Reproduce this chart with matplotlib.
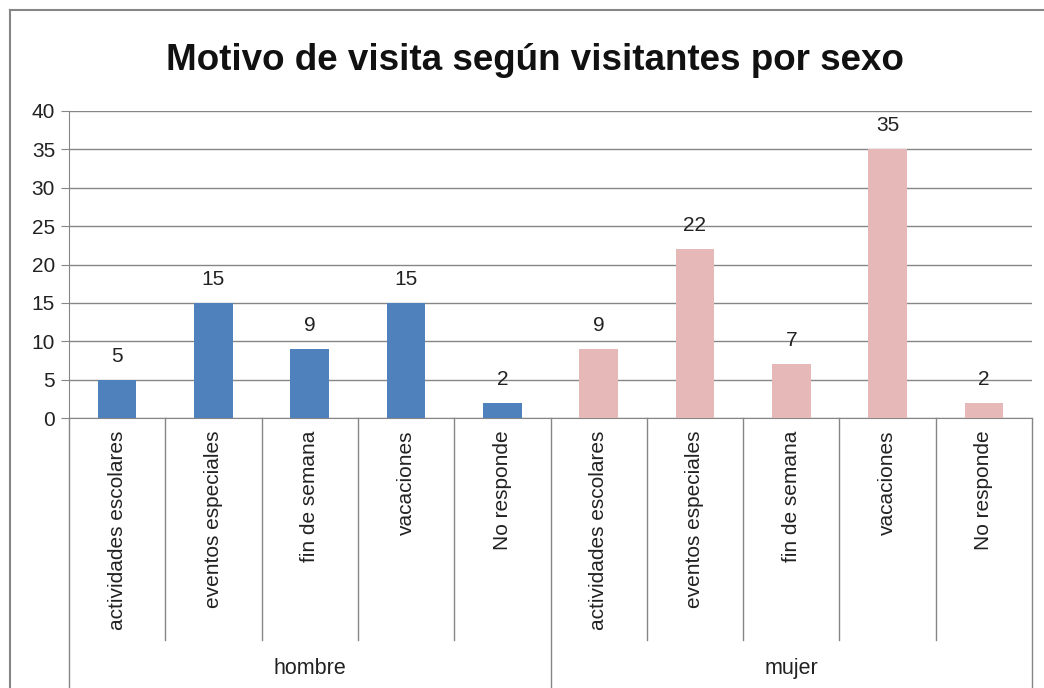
import matplotlib
matplotlib.use("Agg")
from matplotlib import pyplot as plt
from matplotlib.lines import Line2D
import numpy as np

# datos
grupos = ["hombre", "mujer"]
motivos = ["actividades escolares", "eventos especiales", "fin de semana",
           "vacaciones", "No responde"]
hombre = [5, 15, 9, 15, 2]
mujer = [9, 22, 7, 35, 2]
colores = ["#4F81BD", "#E6B9B8"]
titulo = "Motivo de visita según visitantes por sexo"

plt.rcParams['font.family'] = ['Liberation Sans', 'DejaVu Sans']
gris = "#868686"

fig = plt.figure(figsize=(10.44, 6.88), dpi=100)
ax = fig.add_axes([69 / 1044, 1 - 418 / 688, 963 / 1044, 307 / 688])

valores = hombre + mujer
x = np.arange(len(valores))
cols = [colores[0]] * len(hombre) + [colores[1]] * len(mujer)
barras = ax.bar(x, valores, width=0.4, color=cols, zorder=3)
for b, v in zip(barras, valores):
    ax.annotate(str(v), (b.get_x() + b.get_width() / 2, v),
                xytext=(0, 10), textcoords="offset points",
                ha="center", va="bottom", fontsize=15, color="#222222")

ax.set_xlim(-0.5, len(valores) - 0.5)
ax.set_ylim(0, 40)
ax.set_yticks(range(0, 41, 5))
ax.tick_params(axis="y", labelsize=15, length=6, color=gris, pad=4,
               labelcolor="#222222")
ax.tick_params(axis="x", length=0, labelbottom=False)
ax.yaxis.grid(True, color=gris, linewidth=1, zorder=0)
for s in ["top", "right"]:
    ax.spines[s].set_visible(False)
for s in ["left", "bottom"]:
    ax.spines[s].set_color(gris)

trans = ax.get_xaxis_transform()
# etiquetas de categoria
for i, lab in enumerate(motivos * len(grupos)):
    ax.text(i, -0.04, lab, rotation=90, ha="center", va="top",
            fontsize=15, transform=trans, color="#222222")
# separadores
n = len(motivos)
for k in range(len(valores) + 1):
    xs = k - 0.5
    y0 = -0.95 if k % n == 0 else -0.723
    ax.add_line(Line2D([xs, xs], [0, y0], transform=trans, color=gris,
                       linewidth=1, clip_on=False))
for g, nombre in enumerate(grupos):
    ax.text(g * n + (n - 1) / 2, -0.815, nombre, ha="center", va="center",
            fontsize=15.5, transform=trans, color="#222222")

fig.text(535 / 1044, 1 - 61 / 688, titulo, ha="center", va="center",
         fontsize=26.5, fontweight="bold", color="#111111")

# borde del grafico
fig.add_artist(Line2D([10 / 1044, 10 / 1044], [0, 1 - 10 / 688],
                      transform=fig.transFigure, color=gris, linewidth=1.5))
fig.add_artist(Line2D([10 / 1044, 1], [1 - 10 / 688, 1 - 10 / 688],
                      transform=fig.transFigure, color=gris, linewidth=1.5))

fig.savefig("out.png", dpi=100)
